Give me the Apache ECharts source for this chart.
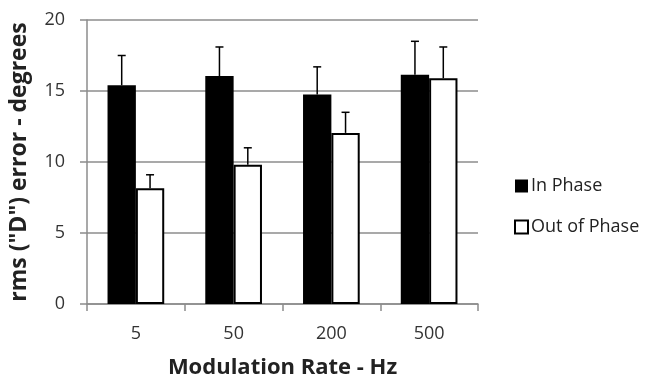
<!DOCTYPE html>
<html>
<head>
<meta charset="utf-8">
<script src="https://cdn.jsdelivr.net/npm/echarts@6/dist/echarts.min.js"></script>
<style>
  html, body { margin: 0; padding: 0; background: #fff; }
  #chart { width: 645px; height: 384px; }
</style>
</head>
<body>
<div id="chart"></div>
<script>
// data
const rates = ["5", "50", "200", "500"];
const inPhase = [15.4, 16.05, 14.75, 16.15];
const inPhaseErrTop = [17.5, 18.1, 16.7, 18.5];
const outPhase = [8.15, 9.8, 12.05, 15.9];
const outPhaseErrTop = [9.1, 11.0, 13.5, 18.1];

const FONT = "Open Sans";
const GROUP = 0.58; // share of category taken by the two bars

function errorBars(side, tops, vals) {
  return {
    type: "custom",
    z: 5,
    silent: true,
    data: rates.map((r, i) => [i, vals[i], tops[i]]),
    renderItem: function (params, api) {
      const idx = api.value(0);
      const base = api.coord([idx, api.value(1)]);
      const top = api.coord([idx, api.value(2)]);
      const bw = api.size([1, 0])[0] * GROUP / 2;
      const x = base[0] + side * bw / 2;
      const cap = 4;
      const style = { stroke: "#000", lineWidth: 1.5 };
      return {
        type: "group",
        children: [
          { type: "line", shape: { x1: x, y1: base[1], x2: x, y2: top[1] }, style: style },
          { type: "line", shape: { x1: x - cap, y1: top[1], x2: x + cap, y2: top[1] }, style: style },
        ],
      };
    },
  };
}

const chart = echarts.init(document.getElementById("chart"));
chart.setOption({
  animation: false,
  backgroundColor: "#fff",
  textStyle: { fontFamily: FONT },
  grid: { left: 85, right: 167, top: 20, bottom: 79 },
  legend: {
    orient: "vertical",
    left: 509,
    top: 172,
    itemWidth: 13,
    itemHeight: 13,
    itemGap: 23,
    icon: "rect",
    textStyle: { fontFamily: FONT, fontSize: 18, color: "#222", padding: [0, 0, 0, -2] },
    data: [
      { name: "In Phase", itemStyle: { color: "#000", borderWidth: 0 } },
      { name: "Out of Phase", itemStyle: { color: "#fff", borderColor: "#000", borderWidth: 2 } },
    ],
  },
  xAxis: {
    type: "category",
    data: rates,
    name: "Modulation Rate - Hz",
    nameLocation: "middle",
    nameGap: 53,
    nameTextStyle: { fontFamily: FONT, fontSize: 22, fontWeight: "bold", color: "#222" },
    axisLine: { lineStyle: { color: "#8c8c8c", width: 1.5 } },
    axisTick: { show: true, alignWithLabel: false, length: 7, lineStyle: { color: "#8c8c8c", width: 1.5 } },
    axisLabel: { fontFamily: FONT, fontSize: 18, color: "#333", margin: 21 },
  },
  yAxis: {
    type: "value",
    min: 0,
    max: 20,
    interval: 5,
    name: 'rms ("D") error - degrees',
    nameLocation: "middle",
    nameGap: 56,
    nameTextStyle: { fontFamily: FONT, fontSize: 23, fontWeight: "bold", color: "#222" },
    axisLine: { show: true, lineStyle: { color: "#8c8c8c", width: 1.5 } },
    axisTick: { show: true, length: 7, lineStyle: { color: "#8c8c8c", width: 1.5 } },
    axisLabel: { fontFamily: FONT, fontSize: 18, color: "#333", margin: 22 },
    splitLine: { lineStyle: { color: "#8c8c8c", width: 1.5 } },
  },
  series: [
    {
      name: "In Phase",
      type: "bar",
      data: inPhase,
      barGap: "0%",
      barCategoryGap: "42%",
      itemStyle: { color: "#000" },
    },
    {
      name: "Out of Phase",
      type: "bar",
      data: outPhase,
      itemStyle: { color: "#fff", borderColor: "#000", borderWidth: 2 },
    },
    errorBars(-1, inPhaseErrTop, inPhase),
    errorBars(1, outPhaseErrTop, outPhase),
  ],
});
</script>
</body>
</html>
